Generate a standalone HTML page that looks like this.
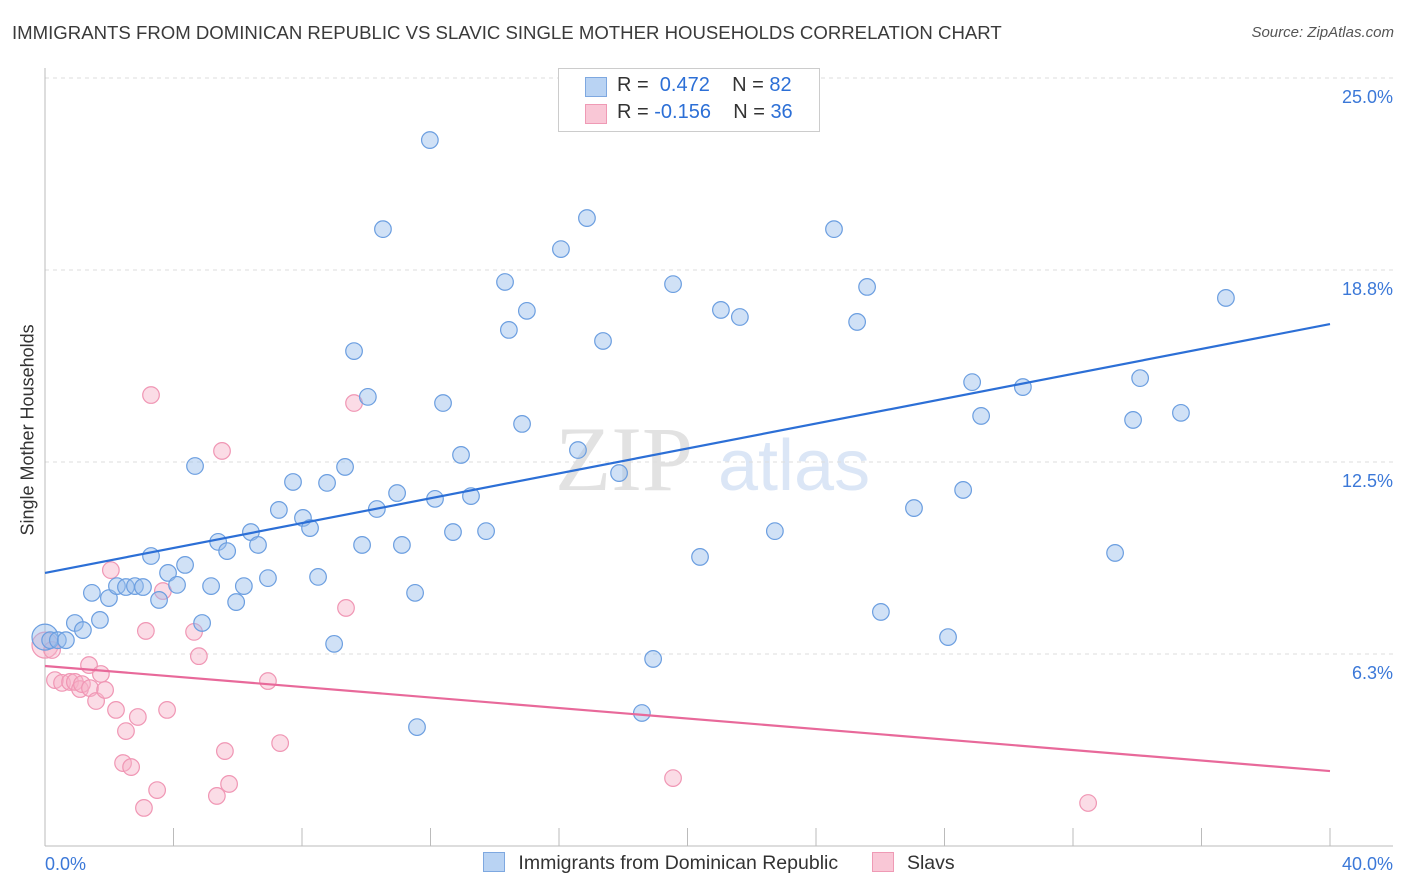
<!DOCTYPE html>
<html><head><meta charset="utf-8"><style>
body{margin:0;background:#fff;font-family:"Liberation Sans",sans-serif;}
#wrap{position:relative;width:1406px;height:892px;overflow:hidden;}
.t{position:absolute;white-space:nowrap;}
</style></head><body>
<div id="wrap">
<div class="t" style="left:12px;top:22px;font-size:18.6px;color:#3a3a3a;">IMMIGRANTS FROM DOMINICAN REPUBLIC VS SLAVIC SINGLE MOTHER HOUSEHOLDS CORRELATION CHART</div>
<div class="t" style="right:12px;top:24px;font-size:15px;color:#555;font-style:italic;">Source: ZipAtlas.com</div>
<div class="t" style="left:-52px;top:445px;font-size:18px;color:#333;transform:rotate(-90deg);width:160px;text-align:center;">Single Mother Households</div>
<svg id="plot" width="1406" height="892" style="position:absolute;left:0;top:0;"></svg>
<div style="position:absolute;left:558px;top:68px;width:260px;height:62px;border:1px solid #ccc;background:#fff;font-size:20px;">
 <div style="position:absolute;left:26px;top:8px;width:20px;height:18px;background:#b9d3f3;border:1px solid #7ea8e0;"></div>
 <div class="t" style="left:58px;top:5px;color:#333;">R = &nbsp;<span style="color:#2c6fd6">0.472</span>&nbsp;&nbsp;&nbsp; N = <span style="color:#2c6fd6">82</span></div>
 <div style="position:absolute;left:26px;top:35px;width:20px;height:18px;background:#f9c7d6;border:1px solid #ef9ab5;"></div>
 <div class="t" style="left:58px;top:32px;color:#333;">R = <span style="color:#2c6fd6">-0.156</span>&nbsp;&nbsp;&nbsp; N = <span style="color:#2c6fd6">36</span></div>
</div>
<div style="position:absolute;left:483px;top:852px;font-size:19.5px;color:#333;">
 <span style="display:inline-block;width:20px;height:18px;background:#b9d3f3;border:1px solid #7ea8e0;vertical-align:-3px;"></span>
 <span style="margin-left:8px;">Immigrants from Dominican Republic</span>
 <span style="display:inline-block;width:20px;height:18px;background:#f9c7d6;border:1px solid #ef9ab5;vertical-align:-3px;margin-left:28px;"></span>
 <span style="margin-left:8px;">Slavs</span>
</div>
</div>
<script>
const yTicks=[6.25,12.5,18.75,25];
const yTickLabels=["6.3%","12.5%","18.8%","25.0%"];
const xLabels=["0.0%","40.0%"];
const blueX=[0,0.16,0.4,0.65,0.93,1.18,1.46,1.71,1.99,2.24,2.52,2.8,3.05,3.3,3.55,3.83,4.11,4.36,4.67,4.89,5.17,5.39,5.67,5.95,6.19,6.41,6.63,6.94,7.28,7.72,8.03,8.25,8.5,8.78,9.0,9.34,9.62,9.87,10.05,10.33,10.52,10.96,11.11,11.52,11.58,11.98,12.14,12.39,12.7,12.95,13.26,13.73,14.32,14.44,14.85,15.0,16.06,16.59,16.87,17.37,17.87,18.58,18.93,19.55,20.39,21.04,21.63,22.72,24.56,25.28,25.59,26.02,27.05,28.11,28.58,28.86,29.14,30.44,33.31,33.87,34.09,35.36,36.76];
const blueY=[6.8,6.7,6.7,6.7,7.26,7.03,8.24,7.36,8.07,8.46,8.43,8.46,8.43,9.44,8.01,8.89,8.5,9.15,12.37,7.26,8.46,9.9,9.6,7.94,8.46,10.22,9.8,8.72,10.94,11.85,10.68,10.35,8.76,11.82,6.58,12.34,16.11,9.8,14.62,10.97,20.08,11.49,9.8,8.24,3.87,22.98,11.3,14.42,10.22,12.73,11.39,10.25,18.36,16.8,13.74,17.42,19.43,12.89,20.44,16.44,12.14,4.33,6.09,18.29,9.41,17.45,17.22,10.25,20.08,17.06,18.2,7.62,11.0,6.8,11.59,15.1,14.0,14.94,9.54,13.87,15.23,14.1,17.84];
const pinkX=[0,0.22,0.31,0.53,0.78,0.93,1.09,1.15,1.37,1.4,1.59,1.74,1.87,2.05,2.21,2.43,2.52,2.68,2.89,3.08,3.14,3.3,3.49,3.67,3.8,4.64,4.79,5.35,5.51,5.6,5.73,6.94,7.32,9.37,9.62,19.55,32.47];
const pinkY=[6.54,6.38,5.4,5.31,5.34,5.34,5.11,5.27,5.89,5.14,4.72,5.6,5.08,8.98,4.43,2.7,3.74,2.57,4.2,1.24,7.0,14.68,1.82,8.3,4.43,6.97,6.18,1.63,12.86,3.09,2.02,5.37,3.35,7.75,14.42,2.21,1.4];
const blueTrend=[8.89,16.99];
const pinkTrend=[5.86,2.44];
const trendX=[0,40];
const X0=45,X1=1330,Y0=846,PX=(X1-X0)/40,PY=30.72;
const xs=v=>X0+v*PX, ys=v=>Y0-v*PY;
const svg=document.getElementById('plot');
const NS='http://www.w3.org/2000/svg';
function mk(t,a){const e=document.createElementNS(NS,t);for(const k in a)e.setAttribute(k,a[k]);svg.appendChild(e);return e;}
let wm=mk('text',{x:555,y:490,'font-size':92,'font-family':'Liberation Serif, serif','fill':'#e2e2e2'});wm.textContent='ZIP';


let wm2=mk('text',{x:718,y:490,'font-size':72,'font-family':'Liberation Sans, sans-serif','fill':'#dbe6f6'});wm2.textContent='atlas';


yTicks.forEach((t,i)=>{
 const g=mk('line',{x1:X0,x2:1393,y1:ys(t),y2:ys(t),stroke:'#ddd','stroke-dasharray':'4,4'});
 
 
 const l=mk('text',{x:1393,y:ys(t)+25,'text-anchor':'end','font-size':18,fill:'#3b78d8','font-family':'Liberation Sans, sans-serif'});
 l.textContent=yTickLabels[i];
 
 
});
mk('line',{x1:X0,x2:X0,y1:68,y2:Y0,stroke:'#bbb'});
const ax=mk('line',{x1:X0,x2:1393,y1:Y0,y2:Y0,stroke:'#bbb'});


for(let i=0;i<=10;i++){const t=mk('line',{x1:xs(i*4),x2:xs(i*4),y1:Y0,y2:Y0-18,stroke:'#bbb'});
 
 }
[[0,'start',45],[40,'end',1393]].forEach((d,i)=>{const l=mk('text',{x:d[2],y:870,'text-anchor':d[1],'font-size':18,fill:'#3b78d8','font-family':'Liberation Sans, sans-serif'});
 l.textContent=xLabels[i];
 
 });
function pts(X,Y,fill,stroke,name){X.forEach((x,i)=>{const c=mk('circle',{cx:xs(x),cy:ys(Y[i]),r:(x===0?13:8.3),fill:fill,stroke:stroke,'stroke-width':1.2});
 
 });}
pts(pinkX,pinkY,'rgba(247,178,200,0.45)','#f096b4','point-slavs');
pts(blueX,blueY,'rgba(150,189,236,0.45)','#6b9ee0','point-dominican');
const bl=mk('line',{x1:xs(trendX[0]),y1:ys(blueTrend[0]),x2:xs(trendX[1]),y2:ys(blueTrend[1]),stroke:'#2c6fd6','stroke-width':2.2});


const pl=mk('line',{x1:xs(trendX[0]),y1:ys(pinkTrend[0]),x2:xs(trendX[1]),y2:ys(pinkTrend[1]),stroke:'#e8699a','stroke-width':2.2});


</script>
</body></html>
